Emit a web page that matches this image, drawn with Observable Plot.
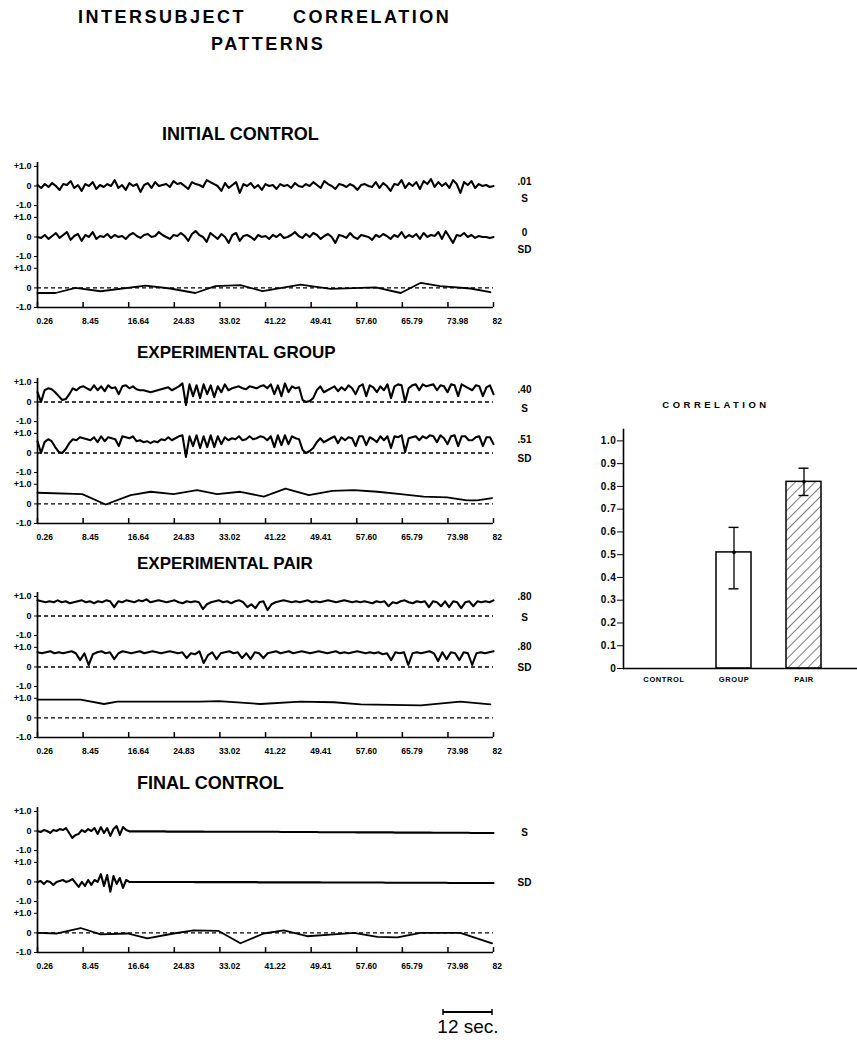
<!DOCTYPE html>
<html><head><meta charset="utf-8">
<script src="https://cdn.jsdelivr.net/npm/d3@7"></script>
<script src="https://cdn.jsdelivr.net/npm/@observablehq/plot@0.6"></script>
<style>
body{margin:0;background:#fff;}
#page{position:relative;width:857px;height:1042px;overflow:hidden;font-family:"Liberation Sans",Arial,sans-serif;color:#000;background:#fff;}
.t{position:absolute;white-space:nowrap;font-weight:bold;line-height:1;}
</style></head><body><div id="page"></div>
<script>
// ---------- time axis ----------
const tickTimes = [0.26, 8.45, 16.64, 24.83, 33.02, 41.22, 49.41, 57.60, 65.79, 73.98, 82.16];
const tickLabels = ["0.26","8.45","16.64","24.83","33.02","41.22","49.41","57.60","65.79","73.98","82"];
const bandOffsets = [0, -2.6, -5.2];
const bandTickLabels = ["+1.0", "0", "-1.0"];

// ---------- INITIAL CONTROL ----------
const initS = [0.05,-0.1,0.1,-0.05,0.15,0.0,-0.2,0.1,0.05,0.25,-0.1,0.05,-0.25,0.1,0.0,0.2,-0.15,0.05,-0.05,0.1,
0.0,0.3,-0.1,0.05,-0.2,0.15,0.0,0.1,-0.3,0.05,0.15,-0.1,0.2,0.0,0.05,0.1,-0.05,0.25,0.1,0.15,
0.0,-0.15,0.2,0.1,0.05,-0.05,0.3,0.2,0.1,0.0,-0.25,0.15,-0.1,0.05,0.2,-0.35,0.1,0.0,0.15,-0.1,
0.05,-0.2,0.1,0.0,0.05,-0.15,0.1,0.0,0.05,-0.1,0.15,0.0,-0.05,0.1,0.0,0.2,0.05,-0.1,0.25,0.1,
0.0,-0.15,0.1,0.05,-0.05,0.1,0.0,-0.2,0.05,0.1,0.0,-0.05,0.2,-0.1,0.15,0.0,-0.25,0.1,0.05,0.3,
-0.1,0.15,0.0,0.2,-0.15,0.25,0.1,0.35,-0.05,0.2,0.0,0.15,-0.1,0.3,0.1,-0.35,0.2,0.05,0.25,-0.1,
0.1,0.0,0.05,-0.05,0.0];
const initSD = [0.0,-0.05,0.1,-0.1,0.05,0.2,-0.05,0.1,0.25,-0.15,0.05,0.15,-0.2,0.1,0.0,0.25,-0.1,0.05,0.0,0.15,
-0.05,0.1,0.0,0.05,-0.1,0.1,0.2,0.05,-0.05,0.1,0.15,0.0,0.05,0.25,0.1,0.0,-0.1,0.1,0.05,0.2,
0.05,-0.2,0.15,0.3,0.1,0.0,-0.25,0.2,0.05,-0.1,0.15,0.0,-0.3,0.1,0.2,-0.2,0.05,0.1,0.0,-0.15,
0.1,0.0,0.05,-0.1,0.1,0.0,0.15,-0.05,0.0,0.1,0.25,0.05,-0.05,0.15,0.0,0.2,0.1,-0.1,0.05,0.15,
0.0,-0.3,0.1,0.05,-0.05,0.2,0.0,-0.1,0.1,0.05,0.0,-0.15,0.1,0.0,0.15,0.05,-0.1,0.1,0.0,0.25,
-0.05,0.1,0.0,0.15,-0.1,0.2,0.0,0.1,0.05,0.25,-0.1,0.3,0.0,-0.3,0.1,0.05,0.2,0.0,0.1,-0.05,
0.05,0.0,0.0,-0.05,0.0];
const initCorrT = [0.26, 3.5, 7.1, 11.6, 19.7, 24.1, 28.6, 32.2, 36.7, 40.7, 47.5, 52.9, 58.3, 61.0, 65.5, 69.1, 72.6, 78.0, 81.6];
const initCorrV = [-0.26, -0.26, 0.0, -0.17, 0.12, -0.03, -0.26, 0.09, 0.14, -0.17, 0.17, -0.05, 0.0, 0.03, -0.26, 0.26, 0.09, -0.03, -0.22];

// ---------- EXPERIMENTAL GROUP ----------
const groupS = [0.5,0.0,0.6,0.7,0.65,0.5,0.3,0.1,0.15,0.4,0.7,0.6,0.75,0.8,0.7,0.6,
0.85,0.6,0.8,0.55,0.85,0.7,0.75,0.4,0.8,0.85,0.7,0.8,0.65,0.6,
0.6,0.55,0.5,0.55,0.6,0.65,0.7,0.75,0.6,0.7,0.8,
0.95,-0.15,0.9,0.3,0.85,0.2,0.9,0.4,0.85,0.25,0.8,0.5,0.9,0.6,
0.7,0.75,0.8,0.7,0.65,0.8,0.75,0.7,0.8,0.85,0.7,
0.9,0.4,0.85,0.3,0.95,0.5,0.8,0.7,0.75,
0.1,0.0,0.05,0.2,0.6,0.8,
0.5,0.6,0.7,0.8,0.55,0.75,0.6,0.85,0.7,0.4,0.8,0.9,
0.3,0.85,0.75,0.5,0.8,0.6,0.9,0.2,0.8,0.9,
0.85,0.0,0.7,0.85,0.9,0.6,
0.9,0.8,0.85,0.9,0.6,0.85,0.8,0.5,0.9,0.85,0.3,0.9,0.8,0.7,
0.6,0.85,0.8,0.3,0.75,0.85,0.4];
const groupSD = [0.6,0.0,0.55,0.7,0.6,0.3,0.05,0.0,0.2,0.5,0.7,0.65,0.8,0.75,0.7,0.65,
0.8,0.55,0.85,0.6,0.8,0.75,0.7,0.35,0.85,0.8,0.75,0.85,0.6,0.65,
0.55,0.6,0.5,0.6,0.55,0.7,0.65,0.8,0.65,0.75,0.85,
0.9,-0.2,0.85,0.35,0.9,0.25,0.85,0.3,0.9,0.3,0.85,0.45,0.8,0.65,
0.75,0.7,0.85,0.65,0.7,0.85,0.7,0.75,0.85,0.8,0.65,
0.85,0.3,0.9,0.4,0.9,0.45,0.85,0.75,0.7,
0.15,0.0,0.1,0.25,0.55,0.75,
0.55,0.65,0.75,0.85,0.5,0.8,0.65,0.8,0.75,0.35,0.85,0.85,
0.4,0.8,0.7,0.55,0.85,0.65,0.85,0.25,0.85,0.8,
0.9,0.05,0.75,0.8,0.85,0.65,
0.85,0.75,0.9,0.85,0.55,0.9,0.75,0.45,0.85,0.9,0.35,0.85,0.85,0.65,
0.65,0.8,0.85,0.35,0.8,0.8,0.45];
const groupCorrT = [0.26, 8.3, 12.5, 17.0, 20.6, 24.7, 28.9, 32.5, 36.7, 40.9, 44.8, 49.0, 53.2, 57.1, 61.3, 65.5, 69.6, 73.8, 77.4, 79.2, 81.9];
const groupCorrV = [0.57, 0.5, -0.03, 0.45, 0.62, 0.5, 0.7, 0.5, 0.62, 0.37, 0.78, 0.45, 0.67, 0.7, 0.62, 0.5, 0.37, 0.33, 0.18, 0.18, 0.3];

// ---------- EXPERIMENTAL PAIR ----------
const pairS = [0.8,0.75,0.7,0.75,0.7,0.8,0.7,0.75,0.65,0.7,0.75,0.8,0.7,0.75,0.65,0.75,0.7,0.8,0.75,0.45,
0.75,0.7,0.8,0.75,0.7,0.8,0.75,0.85,0.7,0.75,0.8,0.75,0.7,0.75,0.8,0.7,0.65,0.75,0.7,0.75,
0.7,0.35,0.6,0.7,0.75,0.8,0.7,0.75,0.65,0.75,0.8,0.7,0.45,0.6,0.4,0.7,0.75,0.3,0.6,0.7,
0.75,0.8,0.75,0.7,0.75,0.7,0.75,0.8,0.7,0.75,0.7,0.75,0.8,0.75,0.7,0.75,0.8,0.75,0.7,0.75,
0.7,0.75,0.7,0.65,0.75,0.7,0.75,0.5,0.7,0.65,0.75,0.8,0.7,0.65,0.75,0.7,0.75,0.45,0.75,0.7,
0.5,0.75,0.45,0.75,0.7,0.4,0.7,0.75,0.5,0.75,0.7,0.75,0.7,0.8];
const pairSD = [0.75,0.7,0.75,0.8,0.7,0.75,0.7,0.75,0.8,0.7,0.35,0.7,0.1,0.65,0.75,0.8,0.7,0.75,0.4,0.7,
0.8,0.75,0.7,0.75,0.8,0.7,0.75,0.8,0.75,0.7,0.75,0.8,0.75,0.7,0.75,0.45,0.7,0.65,0.8,0.2,
0.6,0.75,0.4,0.7,0.75,0.8,0.7,0.75,0.45,0.7,0.4,0.75,0.7,0.45,0.7,0.75,0.8,0.7,0.75,0.8,
0.7,0.75,0.8,0.75,0.7,0.75,0.8,0.75,0.7,0.75,0.8,0.7,0.75,0.7,0.75,0.8,0.75,0.7,0.75,0.7,
0.75,0.65,0.7,0.35,0.75,0.7,0.75,0.1,0.7,0.75,0.7,0.75,0.8,0.7,0.3,0.75,0.4,0.75,0.7,0.35,
0.75,0.7,0.1,0.7,0.75,0.7,0.75,0.8];
const pairCorrT = [0.26, 8.0, 12.2, 14.6, 29.5, 32.8, 40.3, 47.5, 53.5, 58.3, 69.1, 76.2, 81.6];
const pairCorrV = [0.93, 0.93, 0.71, 0.83, 0.83, 0.86, 0.71, 0.83, 0.8, 0.69, 0.64, 0.83, 0.69];

// ---------- FINAL CONTROL ----------
const finalS = [0.0,-0.05,0.05,0.0,-0.1,0.05,0.0,0.1,0.05,0.15,-0.1,-0.35,-0.2,-0.15,0.05,-0.05,0.1,0.0,0.15,-0.15,0.2,-0.1,0.15,-0.25,0.1,0.25,-0.2,0.2,0.05,
-0.02,-0.02,-0.02,-0.02,-0.02,-0.02,-0.02,-0.02,-0.02,-0.02,-0.02,-0.02,
-0.03,-0.03,-0.03,-0.03,-0.03,-0.03,-0.03,-0.03,-0.03,-0.03,-0.03,-0.03,
-0.04,-0.04,-0.04,-0.04,-0.04,-0.04,-0.04,-0.04,-0.04,-0.04,-0.04,-0.04,
-0.04,-0.04,-0.04,-0.04,-0.04,-0.04,-0.04,-0.04,-0.04,-0.04,-0.04,-0.04,
-0.05,-0.05,-0.05,-0.05,-0.05,-0.05,-0.05,-0.05,-0.05,-0.05,-0.05,-0.05,
-0.06,-0.06,-0.06,-0.06,-0.06,-0.06,-0.06,-0.06,-0.06,-0.06,-0.06,-0.06,
-0.07,-0.07,-0.07,-0.07,-0.07,-0.07,-0.07,-0.07,-0.07,-0.07,-0.07,-0.07,
-0.08,-0.08,-0.08,-0.08,-0.08,-0.08,-0.08,-0.08,-0.08,-0.08,-0.08,-0.08,
-0.09,-0.09,-0.09,-0.09,-0.09,-0.09,-0.09,-0.09,-0.09,-0.09,-0.09,-0.09,
-0.1,-0.1,-0.1,-0.1,-0.1,-0.1,-0.1,-0.1];
const finalSD = [0.0,0.05,-0.1,0.05,0.0,-0.15,0.0,0.05,0.1,0.0,0.05,0.15,-0.05,-0.25,0.0,-0.2,0.1,-0.15,0.1,0.0,0.4,-0.2,0.35,-0.5,0.3,-0.1,0.2,-0.3,0.1,0.0,
0.0,0.0,0.0,0.0,0.0,0.0,0.0,0.0,0.0,0.0,0.0,0.0,0.0,0.0,0.0,0.0,0.0,0.0,0.0,0.0,
-0.01,-0.01,-0.01,-0.01,-0.01,-0.01,-0.01,-0.01,-0.01,-0.01,-0.01,-0.01,-0.01,-0.01,-0.01,-0.01,-0.01,-0.01,-0.01,-0.01,
-0.02,-0.02,-0.02,-0.02,-0.02,-0.02,-0.02,-0.02,-0.02,-0.02,-0.02,-0.02,-0.02,-0.02,-0.02,-0.02,-0.02,-0.02,-0.02,-0.02,
-0.03,-0.03,-0.03,-0.03,-0.03,-0.03,-0.03,-0.03,-0.03,-0.03,-0.03,-0.03,-0.03,-0.03,-0.03,-0.03,-0.03,-0.03,-0.03,-0.03,
-0.04,-0.04,-0.04,-0.04,-0.04,-0.04,-0.04,-0.04,-0.04,-0.04,-0.04,-0.04,-0.04,-0.04,-0.04,-0.04,-0.04,-0.04,-0.04,-0.04,
-0.05,-0.05,-0.05,-0.05,-0.05,-0.05,-0.05,-0.05,-0.05,-0.05,-0.05,-0.05,-0.05,-0.05,-0.05];
const finalCorrT = [0.26, 3.8, 8.0, 11.6, 16.4, 20.0, 24.7, 28.3, 32.8, 36.7, 40.9, 44.5, 48.7, 53.5, 57.1, 61.3, 64.9, 69.1, 76.2, 81.9];
const finalCorrV = [0, -0.03, 0.25, -0.08, -0.03, -0.28, -0.03, 0.13, 0.1, -0.53, -0.03, 0.13, -0.17, -0.07, 0, -0.2, -0.23, 0, 0, -0.53];

// ---------- CORRELATION bar chart ----------
const barCats = ["CONTROL", "GROUP", "PAIR"];
const barMeans = [0, 0.51, 0.82];
const barLow = [null, 0.35, 0.76];
const barHigh = [null, 0.62, 0.88];
const barTicks = [0, 0.1, 0.2, 0.3, 0.4, 0.5, 0.6, 0.7, 0.8, 0.9, 1.0];

// ---------- text ----------
const page = document.getElementById("page");
const FONT = '"Liberation Sans", Arial, sans-serif';
function addText(str, x, capY, size, opts = {}) {
  const d = document.createElement("div");
  d.className = "t";
  d.textContent = str;
  d.style.fontSize = size + "px";
  d.style.top = (capY - 0.4885 * size) + "px";
  d.style.left = x + "px";
  if (opts.center) d.style.transform = "translateX(-50%)";
  if (opts.ls) d.style.letterSpacing = opts.ls + "px";
  if (opts.weight) d.style.fontWeight = opts.weight;
  page.appendChild(d);
  return d;
}
addText("INTERSUBJECT", 78, 16.5, 18, {ls: 2.5});
addText("CORRELATION", 293, 16.5, 18, {ls: 2.5});
addText("PATTERNS", 211, 43.5, 18, {ls: 2.5});

// ---------- panels ----------
const tStart = tickTimes[0], tEnd = tickTimes[tickTimes.length - 1];
const xLab = new Map(tickTimes.map((t, i) => [t, tickLabels[i]]));
const yMin = bandOffsets[2] - 1, yMax = 1.2;

function drawPanel(cfg) {
  const lineData = [];
  cfg.traces.forEach((vals, b) => {
    const n = vals.length;
    vals.forEach((v, i) => lineData.push({band: b, t: tStart + i * (tEnd - tStart) / (n - 1), y: bandOffsets[b] + v}));
  });
  const corrData = cfg.corrT.map((t, i) => ({t, y: bandOffsets[2] + cfg.corrV[i]}));
  const yTicks = [], yLab = new Map();
  bandOffsets.forEach(o => {
    [o + 1, o, o - 1].forEach((v, k) => { yTicks.push(v); yLab.set(v, bandTickLabels[k]); });
  });
  const ends = cfg.traces.map((vals, b) => ({t: tEnd, y: bandOffsets[b] + vals[vals.length - 1], val: cfg.valueLabels[b], lett: cfg.letterLabels[b]}));
  const chart = Plot.plot({
    width: 560, height: 175, marginTop: 8, marginBottom: 22, marginLeft: 37, marginRight: 67,
    x: {domain: [tStart, tEnd]},
    y: {domain: [yMin, yMax]},
    style: {background: "transparent", fontFamily: FONT, fontWeight: "bold", overflow: "visible"},
    marks: [
      Plot.ruleY(cfg.dashed.map(b => bandOffsets[b]), {strokeDasharray: "4,3", strokeWidth: 1.4}),
      Plot.line(lineData, {x: "t", y: "y", z: "band", strokeWidth: 2.1, strokeLinejoin: "round"}),
      Plot.line(corrData, {x: "t", y: "y", strokeWidth: 1.8, strokeLinejoin: "round"}),
      Plot.ruleX([tStart], {strokeWidth: 1.7}),
      Plot.ruleY([yMin], {strokeWidth: 1.7}),
      Plot.ruleX(tickTimes, {y1: yMin, y2: yMin + 0.25, strokeWidth: 1.5}),
      Plot.axisY(yTicks, {tickSize: 3, tickPadding: 3, tickFormat: v => yLab.get(v), fontSize: 9, label: null}),
      Plot.axisX(tickTimes, {tickSize: 0, tickPadding: 10, tickFormat: v => xLab.get(v), textAnchor: "start", dx: -1, fontSize: 8.5, label: null}),
      Plot.text(ends, {x: "t", y: "y", text: "val", dx: 31, dy: -4, fontSize: 10}),
      Plot.text(ends, {x: "t", y: "y", text: "lett", dx: 31, dy: cfg.letterDy, fontSize: 10})
    ]
  });
  chart.style.position = "absolute";
  chart.style.left = "0px";
  chart.style.top = (cfg.plotTop - 8 - 0.2 * 145 / 7.4) + "px";
  page.appendChild(chart);
  addText(cfg.title, cfg.titleX, cfg.titleY, cfg.titleSize);
}

drawPanel({title: "INITIAL CONTROL", titleX: 162, titleY: 134, titleSize: 18, plotTop: 166,
  traces: [initS, initSD], corrT: initCorrT, corrV: initCorrV, dashed: [2],
  valueLabels: [".01", "0"], letterLabels: ["S", "SD"], letterDy: 13});
drawPanel({title: "EXPERIMENTAL GROUP", titleX: 137, titleY: 352, titleSize: 17, plotTop: 382,
  traces: [groupS, groupSD], corrT: groupCorrT, corrV: groupCorrV, dashed: [0, 1, 2],
  valueLabels: [".40", ".51"], letterLabels: ["S", "SD"], letterDy: 15});
drawPanel({title: "EXPERIMENTAL PAIR", titleX: 137, titleY: 563, titleSize: 17, plotTop: 596,
  traces: [pairS, pairSD], corrT: pairCorrT, corrV: pairCorrV, dashed: [0, 1, 2],
  valueLabels: [".80", ".80"], letterLabels: ["S", "SD"], letterDy: 17});
drawPanel({title: "FINAL CONTROL", titleX: 137, titleY: 783, titleSize: 18, plotTop: 811,
  traces: [finalS, finalSD], corrT: finalCorrT, corrV: finalCorrV, dashed: [2],
  valueLabels: ["", ""], letterLabels: ["S", "SD"], letterDy: 0});

// ---------- bar chart ----------
const barData = barCats.map((c, i) => ({cat: c, mean: barMeans[i], lo: barLow[i], hi: barHigh[i]}));
const shown = barData.filter(d => d.mean > 0);
const bc = Plot.plot({
  width: 297, height: 300, marginLeft: 63, marginRight: 0, marginTop: 39, marginBottom: 22,
  x: {type: "band", domain: barCats, range: [63, 282.6], paddingInner: 0.507, paddingOuter: 0.3},
  y: {domain: [0, 1.05]},
  style: {background: "transparent", fontFamily: FONT, fontWeight: "bold", overflow: "visible", letterSpacing: "0.6px"},
  marks: [
    Plot.barY(shown, {filter: d => d.cat !== "PAIR", x: "cat", y: "mean", fill: "white", stroke: "black", strokeWidth: 1.5}),
    Plot.barY(shown, {filter: d => d.cat === "PAIR", x: "cat", y: "mean", fill: "url(#hatch)", stroke: "black", strokeWidth: 1.5}),
    Plot.ruleX(shown, {x: "cat", y1: "lo", y2: "hi", strokeWidth: 1.3}),
    Plot.tickY(shown, {x: "cat", y: "lo", insetLeft: 12.5, insetRight: 12.5, strokeWidth: 1.4}),
    Plot.tickY(shown, {x: "cat", y: "hi", insetLeft: 12.5, insetRight: 12.5, strokeWidth: 1.4}),
    Plot.dot(shown, {x: "cat", y: "mean", r: 1.8, fill: "black"}),
    Plot.ruleY([0], {strokeWidth: 1.6}),
    Plot.frame({anchor: "left", strokeWidth: 1.6}),
    Plot.axisY(barTicks, {tickSize: 6, tickPadding: 1, tickFormat: v => v === 0 ? "0" : v.toFixed(1), fontSize: 10, label: null}),
    Plot.axisX({tickSize: 0, tickPadding: 8, fontSize: 7.5, label: null})
  ]
});
const defs = d3.select(bc).insert("defs", ":first-child");
const pat = defs.append("pattern").attr("id", "hatch").attr("patternUnits", "userSpaceOnUse")
  .attr("width", 7).attr("height", 7).attr("patternTransform", "rotate(45)");
pat.append("rect").attr("width", 7).attr("height", 7).attr("fill", "white");
pat.append("line").attr("x1", 0).attr("y1", 0).attr("x2", 0).attr("y2", 7).attr("stroke", "black").attr("stroke-width", 1);
bc.style.position = "absolute";
bc.style.left = "560px";
bc.style.top = "390px";
page.appendChild(bc);
addText("CORRELATION", 716, 405, 9.5, {center: true, ls: 3.5});

// ---------- scale bar ----------
const sb = document.createElementNS("http://www.w3.org/2000/svg", "svg");
sb.setAttribute("width", 54); sb.setAttribute("height", 10);
sb.style.position = "absolute"; sb.style.left = "441px"; sb.style.top = "1007px";
sb.innerHTML = '<line x1="2" y1="5" x2="51" y2="5" stroke="black" stroke-width="2.2"/>' +
  '<line x1="2" y1="2" x2="2" y2="8" stroke="black" stroke-width="1.5"/>' +
  '<line x1="51" y1="2" x2="51" y2="8" stroke="black" stroke-width="1.5"/>';
page.appendChild(sb);
addText("12 sec.", 468, 1026, 19, {center: true, weight: "normal"});
</script></body></html>
